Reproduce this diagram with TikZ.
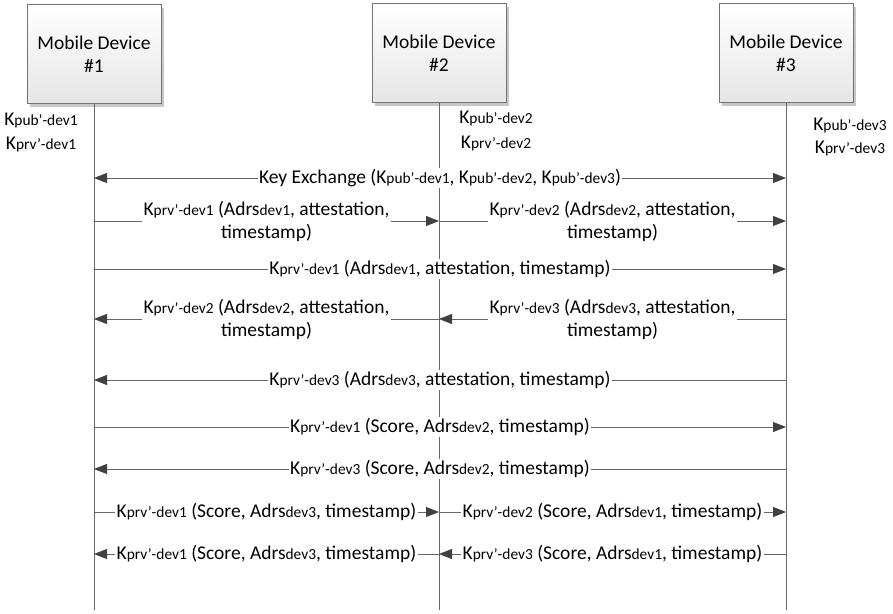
\documentclass[tikz,border=0pt]{standalone}
\usepackage{fontspec}
\setmainfont{Carlito}
\usetikzlibrary{arrows.meta,shadows}
% smaller index text used in key and address names
\newcommand\lo[1]{{\fontsize{15.4}{16}\selectfont #1}}
\begin{document}
\begin{tikzpicture}[x=1pt,y=-1pt,
  font=\fontsize{19.5}{23}\selectfont,
  device/.style={draw=black!55, line width=0.8pt, top color=white, bottom color=black!10,
    minimum width=134pt, minimum height=99pt, align=center,
    drop shadow={shadow xshift=3pt,shadow yshift=-3pt,fill=black!22,opacity=1}},
  life/.style={draw=black!60, line width=0.8pt},
  tipshape/.tip={Triangle[length=13pt,width=10pt,color=black!75]},
  msg/.style={draw=black!60, line width=0.8pt, -tipshape},
  both/.style={draw=black!60, line width=0.8pt, tipshape-tipshape},
  lbl/.style={fill=white, inner sep=1.5pt, align=center},
  keylbl/.style={inner sep=0pt}]
\useasboundingbox (0,0) rectangle (893,613);

% devices
\node[device] (d1) at (94,54) {Mobile Device\\\#1};
\node[device] (d2) at (439,53) {Mobile Device\\\#2};
\node[device] (d3) at (786,53) {Mobile Device\\\#3};

% lifelines
\coordinate (bottom) at (0,610);
\draw[life] (d1.south) -- (d1.south |- bottom);
\draw[life] (d2.south) -- (d2.south |- bottom);
\draw[life] (d3.south) -- (d3.south |- bottom);

% key pairs of each device
\node[keylbl] (k1a) at (41,120) {K\lo{pub’-dev1}};
\node[keylbl] (k1b) at (41,144) {K\lo{prv’-dev1}};
\node[keylbl] (k2a) at (496,118) {K\lo{pub’-dev2}};
\node[keylbl] (k2b) at (496,143) {K\lo{prv’-dev2}};
\node[keylbl] (k3a) at (850,125) {K\lo{pub’-dev3}};
\node[keylbl] (k3b) at (850,148) {K\lo{prv’-dev3}};

% message rows on the lifelines
\foreach \n/\y in {1/178,2/221,3/269,4/319,5/380,6/427,7/469,8/512,9/554}{
  \coordinate (A\n) at (94,\y);
  \coordinate (B\n) at (439,\y);
  \coordinate (C\n) at (786,\y);
}

\draw[both] (A1) -- (C1) node[lbl,midway] {Key Exchange (K\lo{pub’-dev1}, K\lo{pub’-dev2}, K\lo{pub’-dev3})};

\draw[msg] (A2) -- (B2) node[lbl,midway] {K\lo{prv’-dev1} (Adrs\lo{dev1}, attestation,\\timestamp)};
\draw[msg] (B2) -- (C2) node[lbl,midway] {K\lo{prv’-dev2} (Adrs\lo{dev2}, attestation,\\timestamp)};

\draw[msg] (A3) -- (C3) node[lbl,midway] {K\lo{prv’-dev1} (Adrs\lo{dev1}, attestation, timestamp)};

\draw[msg] (B4) -- (A4) node[lbl,midway] {K\lo{prv’-dev2} (Adrs\lo{dev2}, attestation,\\timestamp)};
\draw[msg] (C4) -- (B4) node[lbl,midway] {K\lo{prv’-dev3} (Adrs\lo{dev3}, attestation,\\timestamp)};

\draw[msg] (C5) -- (A5) node[lbl,midway] {K\lo{prv’-dev3} (Adrs\lo{dev3}, attestation, timestamp)};

\draw[msg] (A6) -- (C6) node[lbl,midway] {K\lo{prv’-dev1} (Score, Adrs\lo{dev2}, timestamp)};

\draw[msg] (C7) -- (A7) node[lbl,midway] {K\lo{prv’-dev3} (Score, Adrs\lo{dev2}, timestamp)};

\draw[msg] (A8) -- (B8) node[lbl,midway] {K\lo{prv’-dev1} (Score, Adrs\lo{dev3}, timestamp)};
\draw[msg] (B8) -- (C8) node[lbl,midway] {K\lo{prv’-dev2} (Score, Adrs\lo{dev1}, timestamp)};

\draw[msg] (B9) -- (A9) node[lbl,midway] {K\lo{prv’-dev1} (Score, Adrs\lo{dev3}, timestamp)};
\draw[msg] (C9) -- (B9) node[lbl,midway] {K\lo{prv’-dev3} (Score, Adrs\lo{dev1}, timestamp)};
\end{tikzpicture}
\end{document}
